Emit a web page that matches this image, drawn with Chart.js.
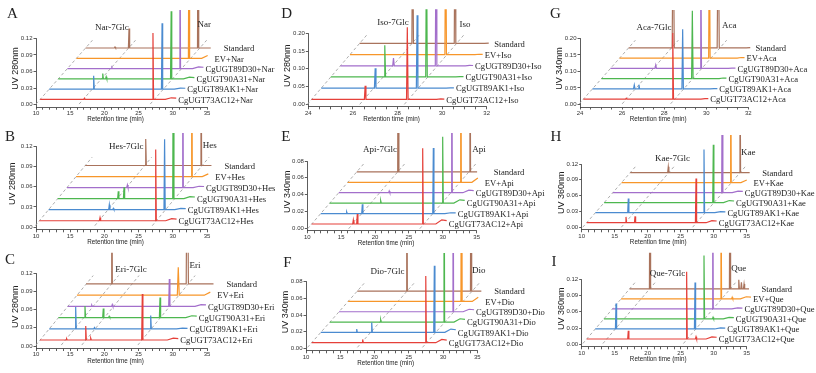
<!DOCTYPE html>
<html>
<head>
<meta charset="utf-8">
<script src="https://cdn.jsdelivr.net/npm/chart.js@4.4.1/dist/chart.umd.min.js"></script>
<style>
  body { margin: 0; background: #fff; width: 816px; height: 373px; overflow: hidden; position: relative; }
  canvas { position: absolute; }
</style>
</head>
<body>
<script>
// HPLC traces of CgUGT reactions, one panel per flavonoid substrate.
// Peaks are [retention time (min), height (AU)]; heights
// above the plot top are peaks that run off the panel.

const sampleNames = ["CgUGT73AC12", "CgUGT89AK1", "CgUGT90A31", "CgUGT89D30", "EV", "Standard"];
const traceColors = ["#e5403a", "#4b8bd0", "#4db74f", "#a36fcb", "#f7962a", "#a9735c"];

const xMajorLong = [10, 15, 20, 25, 30, 35];
const xMajorShort = [24, 26, 28, 30, 32];
const yTicks12 = [0, 0.03, 0.06, 0.09, 0.12];
const yTicks20 = [0, 0.05, 0.10, 0.15, 0.20];
const yTicks08 = [0, 0.02, 0.04, 0.06, 0.08];

// A - naringenin
const narPeaks = [
  [[17.1, 0.002], [27.1, 0.12]],
  [[17.1, 0.024], [27.1, 0.119]],
  [[17.1, 0.0095], [17.6, 0.004], [27.1, 0.122]],
  [[17.1, 0.002], [27.05, 0.3]],
  [[27.05, 0.3]],
  [[14.9, 0.002], [16.95, 0.035], [27.05, 0.3]]
];
const narTails = [0.003, 0.002, 0.003, 0.003, 0.005, 0.002];
const narGuides = [10.6, 16.9, 27.3];
const narTags = [["Nar-7Glc", 21.1, 0.139], ["Nar", 34.6, 0.144]];

// B - hesperetin
const hesPeaks = [
  [[19.36, 0.0045], [27.5, 0.105]],
  [[19.38, 0.0074], [19.96, 0.002], [27.46, 0.104]],
  [[19.35, 0.011], [20.19, 0.0167], [27.4, 0.3]],
  [[19.34, 0.004], [27.43, 0.3]],
  [[27.4, 0.3]],
  [[19.34, 0.039], [27.42, 0.3]]
];
const hesTails = [0.003, 0.002, 0.003, 0.002, 0.004, 0.002];
const hesGuides = [10.5, 19.2, 27.6];
const hesTags = [["Hes-7Glc", 23.2, 0.119], ["Hes", 35.4, 0.12]];

// C - eriodictyol
const eriPeaks = [
  [[14.48, 0.002], [17.27, 0.023], [18.0, 0.003], [25.54, 0.076]],
  [[14.45, 0.036], [17.2, 0.002], [25.42, 0.022]],
  [[14.46, 0.019], [17.14, 0.015], [18.0, 0.002], [25.43, 0.033]],
  [[14.1, 0.002], [17.1, 0.003], [25.44, 0.045]],
  [[25.4, 0.046, 0.14]],
  [[14.32, 0.3], [25.37, 0.3, 0.16]]
];
const eriTails = [0.003, 0.001, 0.003, 0.003, 0.005, 0.002];
const eriGuides = [10.6, 14.3, 17.3, 25.5];
const eriTags = [["Eri-7Glc", 23.9, 0.1266], ["Eri", 33.25, 0.132]];

// D - isosakuranetin
const isoPeaks = [
  [[26.55, 0.038], [28.44, 0.203]],
  [[26.57, 0.056], [28.45, 0.205]],
  [[26.57, 0.089], [28.44, 0.4]],
  [[26.53, 0.022], [28.44, 0.4]],
  [[28.44, 0.4]],
  [[26.53, 0.4], [28.43, 0.4]]
];
const isoTails = [0.001, 0.001, 0.001, 0.001, 0.001, 0.001];
const isoGuides = [24.15, 26.5, 28.5];
const isoTags = [["Iso-7Glc", 27.8, 0.23], ["Iso", 31.03, 0.223]];

// E - apigenin
const apiPeaks = [
  [[16.79, 0.0048], [17.38, 0.012], [27.03, 0.09]],
  [[14.48, 0.002], [16.79, 0.011], [27.27, 0.078]],
  [[18.17, 0.003], [27.32, 0.079]],
  [[18.1, 0.002], [27.32, 0.3]],
  [[27.32, 0.3]],
  [[16.78, 0.3], [27.35, 0.3], [28.5, 0.003]]
];
const apiTails = [0.005, 0.001, 0.004, 0.003, 0.005, 0.001];
const apiGuides = [10.65, 16.7, 27.2];
const apiTags = [["Api-7Glc", 20.73, 0.094], ["Api", 35.34, 0.093]];

// F - diosmetin
const dioPeaks = [
  [[18.27, 0.004], [27.48, 0.08]],
  [[16.07, 0.004], [18.26, 0.012], [27.4, 0.08]],
  [[18.24, 0.003], [27.48, 0.3]],
  [[27.46, 0.3]],
  [[27.38, 0.3]],
  [[18.05, 0.3], [27.44, 0.3]]
];
const dioTails = [0.004, 0.004, 0.004, 0.003, 0.005, 0.001];
const dioGuides = [10.83, 18.1, 27.6];
const dioTags = [["Dio-7Glc", 21.9, 0.092], ["Dio", 35.2, 0.093]];

// G - acacetin
const acaPeaks = [
  [[26.2, 0.003], [28.41, 0.2]],
  [[26.15, 0.012], [26.37, 0.013], [28.45, 0.18]],
  [[28.48, 0.205]],
  [[26.31, 0.01], [28.45, 0.4]],
  [[28.43, 0.4]],
  [[26.28, 0.4, 0.05], [28.42, 0.4, 0.05]]
];
const acaTails = [0.002, 0.001, 0.002, 0.001, 0.002, 0.001];
const acaGuides = [24.16, 26.2, 28.5];
const acaTags = [["Aca-7Glc", 27.52, 0.231], ["Aca", 31.1, 0.237]];

// H - kaempferol
const kaePeaks = [
  [[16.71, 0.011], [18.08, 0.012], [27.32, 0.084]],
  [[15.74, 0.027], [27.21, 0.12]],
  [[27.3, 0.11]],
  [[27.34, 0.3]],
  [[27.29, 0.3]],
  [[16.52, 0.011], [27.38, 0.3]]
];
const kaeTails = [0.004, 0.002, 0.004, 0.003, 0.005, 0.002];
const kaeGuides = [10.76, 16.6, 27.4];
const kaeTags = [["Kae-7Glc", 23.76, 0.131], ["Kae", 35.24, 0.141]];

// I - quercetin
const quePeaks = [
  [[17.06, 0.015], [25.9, 0.124], [27.32, 0.004]],
  [[13.9, 0.047], [25.87, 0.086]],
  [[25.93, 0.117], [27.3, 0.003]],
  [[25.95, 0.3]],
  [[25.9, 0.3], [27.6, 0.003]],
  [[13.85, 0.3], [25.97, 0.3], [27.3, 0.017], [27.7, 0.012], [28.1, 0.009]]
];
const queTails = [0.004, 0.002, 0.003, 0.002, 0.004, 0.002];
const queGuides = [10.76, 13.8, 26.0];
const queTags = [["Que-7Glc", 23.0, 0.131], ["Que", 33.8, 0.14]];

// layout: box = canvas [left, top, w, h]; axis = [x of y-axis, x of xmax, y of ymax, y of 0]
const panels = [
  { letter: "A", cmp: "Nar", nm: 280, peaks: narPeaks, tails: narTails, guides: narGuides, tags: narTags,
    run: [10.6, 30.5], dx: 1.33, dy: 0.0186, base: 0.0095, xMajor: xMajorLong, xStep: 1, yTicks: yTicks12,
    box: [0, 0, 280, 130], axis: [36, 207, 38.3, 104.7], clipY: 10, letterAt: [12.5, 14], titleOff: 20 },
  { letter: "D", cmp: "Iso", nm: 280, peaks: isoPeaks, tails: isoTails, guides: isoGuides, tags: isoTags,
    run: [24.15, 30.1], dx: 0.43, dy: 0.0315, base: 0.014, xMajor: xMajorShort, xStep: 0.5, yTicks: yTicks20,
    box: [270, 0, 280, 130], axis: [38.3, 216.7, 33.3, 104.3], clipY: 9.3, letterAt: [16.7, 14], titleOff: 21 },
  { letter: "G", cmp: "Aca", nm: 340, peaks: acaPeaks, tails: acaTails, guides: acaGuides, tags: acaTags,
    run: [24.16, 30.1], dx: 0.43, dy: 0.031, base: 0.016, xMajor: xMajorShort, xStep: 0.5, yTicks: yTicks20,
    box: [540, 0, 276, 130], axis: [40, 208.3, 38.3, 104.5], clipY: 10, letterAt: [15.3, 14], titleOff: 20 },
  { letter: "B", cmp: "Hes", nm: 280, peaks: hesPeaks, tails: hesTails, guides: hesGuides, tags: hesTags,
    run: [10.5, 30.55], dx: 1.34, dy: 0.0163, base: 0.0097, xMajor: xMajorLong, xStep: 1, yTicks: yTicks12,
    box: [0, 120, 280, 130], axis: [36, 207, 26, 107.3], clipY: 13, letterAt: [10, 17], titleOff: 23 },
  { letter: "E", cmp: "Api", nm: 340, peaks: apiPeaks, tails: apiTails, guides: apiGuides, tags: apiTags,
    run: [10.65, 30.57], dx: 1.33, dy: 0.0124, base: 0.0051, xMajor: xMajorLong, xStep: 1, yTicks: yTicks08,
    box: [270, 120, 280, 130], axis: [37.3, 206.7, 41, 108.3], clipY: 13, letterAt: [15.8, 17], titleOff: 20 },
  { letter: "H", cmp: "Kae", nm: 360, peaks: kaePeaks, tails: kaeTails, guides: kaeGuides, tags: kaeTags,
    run: [10.76, 30.45], dx: 1.32, dy: 0.019, base: 0.0087, xMajor: xMajorLong, xStep: 1, yTicks: yTicks12,
    box: [540, 120, 276, 130], axis: [41.7, 206.7, 44, 107.3], clipY: 15, letterAt: [15.8, 17], titleOff: 20 },
  { letter: "C", cmp: "Eri", nm: 280, peaks: eriPeaks, tails: eriTails, guides: eriGuides, tags: eriTags,
    run: [10.58, 30.8], dx: 1.35, dy: 0.0185, base: 0.0099, xMajor: xMajorLong, xStep: 1, yTicks: yTicks12,
    box: [0, 240, 280, 133], axis: [36, 207, 33.3, 106], clipY: 12.7, letterAt: [10, 20], titleOff: 20 },
  { letter: "F", cmp: "Dio", nm: 340, peaks: dioPeaks, tails: dioTails, guides: dioGuides, tags: dioTags,
    run: [10.83, 30.54], dx: 1.33, dy: 0.0124, base: 0.0067, xMajor: xMajorLong, xStep: 1, yTicks: yTicks08,
    box: [270, 240, 280, 133], axis: [36, 207.3, 41.7, 108.3], clipY: 13, letterAt: [17.5, 23], titleOff: 20 },
  { letter: "I", cmp: "Que", nm: 360, peaks: quePeaks, tails: queTails, guides: queGuides, tags: queTags,
    run: [10.76, 30.45], dx: 1.3, dy: 0.0185, base: 0.0098, xMajor: xMajorLong, xStep: 1, yTicks: yTicks12,
    box: [540, 240, 276, 133], axis: [41.7, 206.7, 39.3, 104.3], clipY: 12.7, letterAt: [14, 22.5], titleOff: 20 }
];

function minorTicks(major, step) {
  const out = [];
  for (let v = major[0]; v <= major[major.length - 1] + 1e-9; v += step) {
    out.push(Math.round(v * 100) / 100);
  }
  return out;
}

// one chromatogram, shifted right and up by its place in the stack
function tracePoints(p, i) {
  const short = p.xStep < 1;
  const hw = short ? 0.035 : 0.09;
  const tailLen = short ? 0.35 : 1.6;
  const sx = i * p.dx;
  const b = p.base + i * p.dy;
  const pts = [{ x: p.run[0] + sx, y: b }];
  p.peaks[i].forEach(([t, h, w]) => {
    const half = w || hw;
    pts.push({ x: t - half + sx, y: b }, { x: t + sx, y: b + h }, { x: t + half + sx, y: b });
  });
  const tail = p.tails[i];
  pts.push({ x: p.run[1] - tailLen + sx, y: b });
  pts.push({ x: p.run[1] - tailLen * 0.45 + sx, y: b + tail });
  pts.push({ x: p.run[1] + sx, y: b + tail * 0.8 });
  pts.sort((a, c) => a.x - c.x);
  return pts;
}

function guidePoints(p, t) {
  const lo = -0.45, hi = 5.75;
  return [
    { x: t + lo * p.dx, y: p.base + lo * p.dy },
    { x: t + hi * p.dx, y: p.base + hi * p.dy }
  ];
}

function textPlugin(p) {
  return {
    id: "panelText" + p.letter,
    afterDraw(chart) {
      const ctx = chart.ctx;
      const xs = chart.scales.x;
      const ys = chart.scales.y;
      const [ax, ar, at, a0] = p.axis;
      ctx.save();
      ctx.fillStyle = "#222";

      ctx.font = "15px 'Liberation Serif'";
      ctx.textAlign = "center";
      ctx.textBaseline = "middle";
      ctx.fillText(p.letter, p.letterAt[0], p.letterAt[1]);

      ctx.save();
      ctx.translate(ax - p.titleOff, (at + a0) / 2 - 3);
      ctx.rotate(-Math.PI / 2);
      ctx.font = "9px 'Liberation Sans'";
      ctx.fillText("UV " + p.nm + "nm", 0, 0);
      ctx.restore();

      ctx.font = "6.3px 'Liberation Sans'";
      ctx.fillText("Retention time (min)", (ax + ar) / 2 - 6, a0 + 15);

      ctx.font = "8.6px 'Liberation Serif'";
      ctx.textAlign = "left";
      sampleNames.forEach((name, i) => {
        const label = i === 5 ? name : name + "+" + p.cmp;
        const x = xs.getPixelForValue(p.run[1] + i * p.dx) + 2;
        const y = ys.getPixelForValue(p.base + i * p.dy) + 1;
        ctx.fillText(label, x, y);
      });

      ctx.font = "9px 'Liberation Serif'";
      ctx.textAlign = "center";
      p.tags.forEach(([txt, x, y]) => {
        ctx.fillText(txt, xs.getPixelForValue(x), ys.getPixelForValue(y));
      });
      ctx.restore();
    }
  };
}

panels.forEach((p) => {
  const [left, top, w, h] = p.box;
  const [ax, ar, at, a0] = p.axis;
  const canvas = document.createElement("canvas");
  canvas.width = w;
  canvas.height = h;
  canvas.style.left = left + "px";
  canvas.style.top = top + "px";
  canvas.style.width = w + "px";
  canvas.style.height = h + "px";
  document.body.appendChild(canvas);

  const yMax = p.yTicks[p.yTicks.length - 1];
  const yMin = -2.5 * yMax / (a0 - at);
  const xTickList = minorTicks(p.xMajor, p.xStep);
  const clip = { left: 10, top: at - p.clipY, right: 90, bottom: 6 };

  const datasets = [];
  sampleNames.forEach((name, i) => {
    datasets.push({
      label: name,
      data: tracePoints(p, i),
      borderColor: traceColors[i],
      borderWidth: 1.2,
      pointRadius: 0,
      tension: 0,
      clip: clip,
      order: 0
    });
  });
  p.guides.forEach((t) => {
    datasets.push({
      label: "guide",
      data: guidePoints(p, t),
      borderColor: "#a4a4a4",
      borderWidth: 0.9,
      borderDash: [3, 2.5],
      pointRadius: 0,
      clip: clip,
      order: 1
    });
  });

  new Chart(canvas, {
    type: "line",
    data: { datasets: datasets },
    options: {
      responsive: false,
      animation: false,
      devicePixelRatio: 1,
      layout: { padding: { top: at, right: w - ar, left: 0, bottom: 0 } },
      plugins: { legend: { display: false }, tooltip: { enabled: false } },
      scales: {
        x: {
          type: "linear",
          min: p.xMajor[0],
          max: p.xMajor[p.xMajor.length - 1],
          afterBuildTicks: (s) => { s.ticks = xTickList.map((v) => ({ value: v })); },
          afterFit: (s) => { s.height = h - (a0 + 2.5); },
          border: { color: "#333", width: 0.8 },
          grid: { drawOnChartArea: false, tickLength: 2.5, color: "#333", lineWidth: 0.8 },
          ticks: {
            autoSkip: false, maxRotation: 0, minRotation: 0, padding: 0,
            color: "#333", font: { family: "'Liberation Sans'", size: 6 },
            callback: (v) => (p.xMajor.includes(v) ? String(v) : "")
          }
        },
        y: {
          type: "linear",
          min: yMin,
          max: yMax,
          afterBuildTicks: (s) => { s.ticks = p.yTicks.map((v) => ({ value: v })); },
          afterFit: (s) => { s.width = ax; },
          border: { color: "#333", width: 0.8 },
          grid: { drawOnChartArea: false, tickLength: 2.5, color: "#333", lineWidth: 0.8 },
          ticks: {
            autoSkip: false, padding: 1,
            color: "#333", font: { family: "'Liberation Sans'", size: 6 },
            callback: (v) => v.toFixed(2)
          }
        }
      }
    },
    plugins: [textPlugin(p)]
  });
});
</script>
</body>
</html>
